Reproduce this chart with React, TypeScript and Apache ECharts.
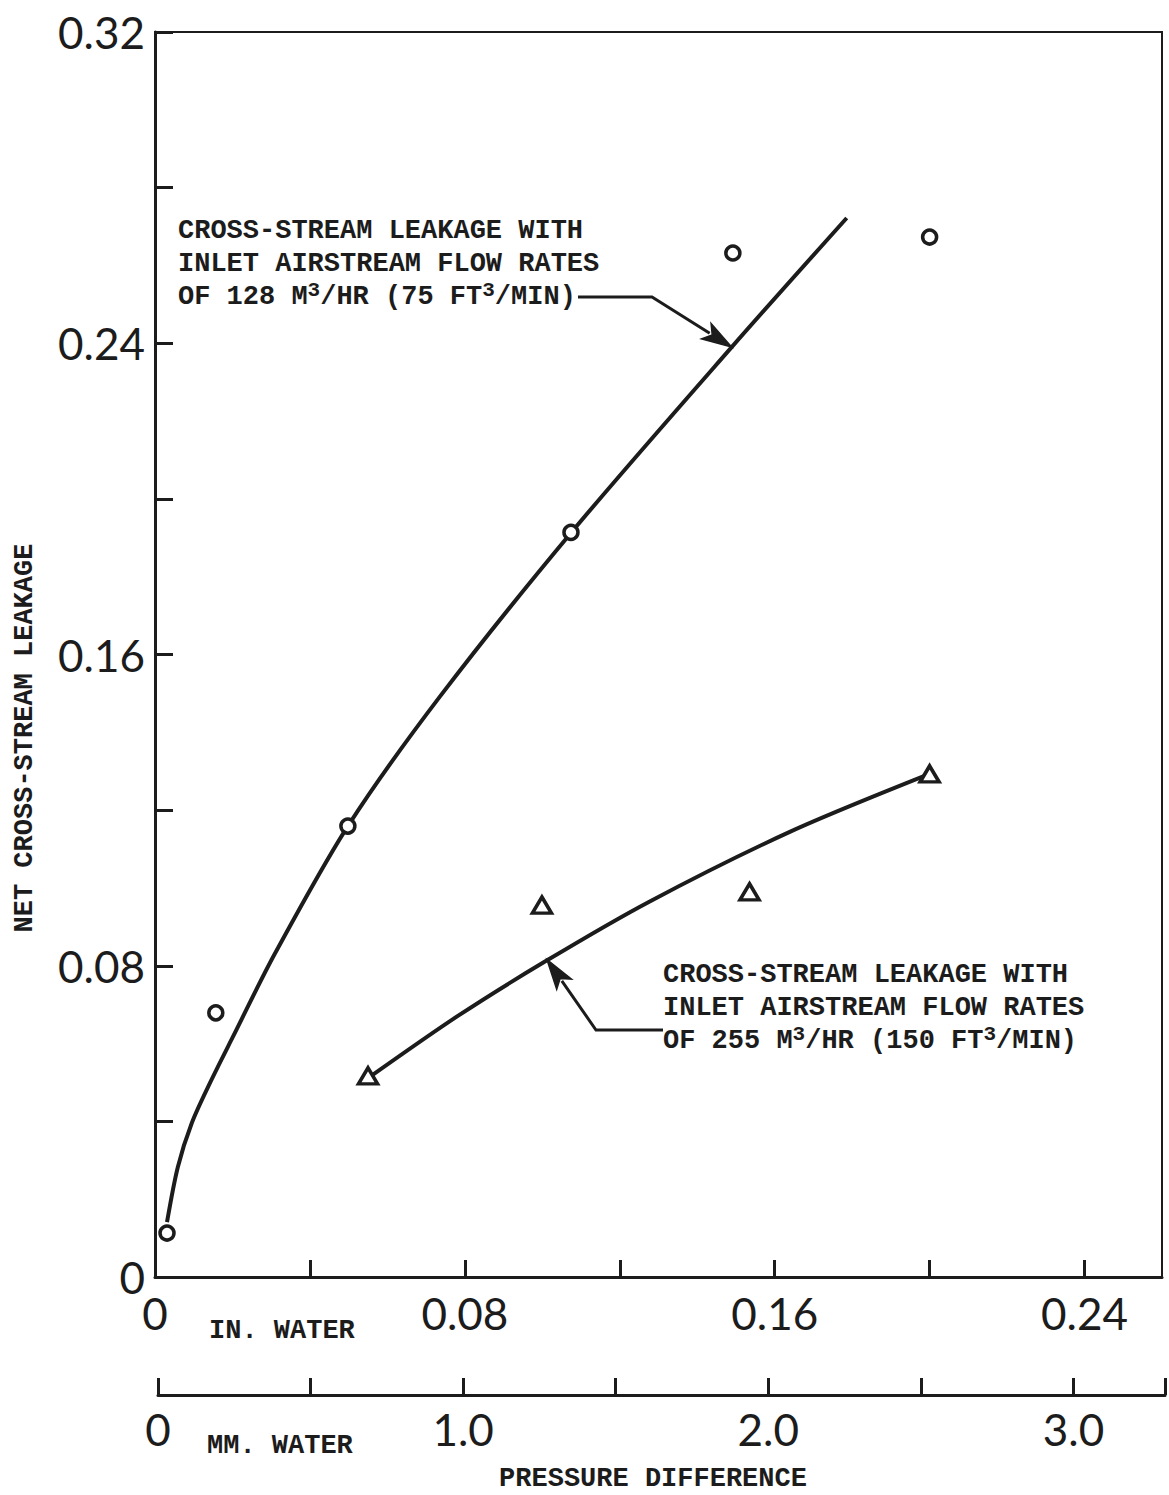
import React, { useEffect, useRef } from "react";
import * as echarts from "echarts";

// ---- data (inches of water vs. net cross-stream leakage) ----
const circleX = [0.0031, 0.0157, 0.0498, 0.1074, 0.1492, 0.2];
const circleY = [0.0113, 0.0679, 0.1159, 0.1914, 0.2632, 0.2673];
const triangleX = [0.055, 0.0999, 0.1535, 0.2];
const triangleY = [0.0517, 0.0956, 0.099, 0.1293];

const curve1X = [0.0031, 0.0059, 0.0095, 0.0142, 0.0201, 0.031, 0.0498, 0.0735, 0.1076, 0.1489, 0.1786];
const curve1Y = [0.0141, 0.0283, 0.0396, 0.0499, 0.0617, 0.0832, 0.1159, 0.1491, 0.1915, 0.239, 0.2722];
const curve2X = [0.055, 0.0782, 0.1009, 0.1275, 0.1639, 0.2];
const curve2Y = [0.0511, 0.0671, 0.0812, 0.0964, 0.1144, 0.1293];

const yTickLabels = ["0", "0.08", "0.16", "0.24", "0.32"];
const xInTickLabels = ["0", "0.08", "0.16", "0.24"];
const xMmTickLabels = ["0", "1.0", "2.0", "3.0"];

const arrow1Tip = [0.1489, 0.239];
const arrow2Tip = [0.1012, 0.0816];

const INK = "#1c1c1c";
const NUM_FONT = "Lato";
const TYPE_FONT = "Liberation Mono";

const zip = (a: number[], b: number[]) => a.map((v, i) => [v, b[i]]);

const fmtMultiple = (labels: string[], step: number) => (v: number) => {
  const k = v / step;
  if (Math.abs(k - Math.round(k)) > 1e-6) return "";
  return labels[Math.round(k)] ?? "";
};

export default function App() {
  const ref = useRef<HTMLDivElement>(null);
  useEffect(() => {
    if (!ref.current) return;
    const chart = echarts.init(ref.current, null, { renderer: "svg" });
    const labelStyle = { fontFamily: NUM_FONT, fontSize: 44, color: INK };
    chart.setOption({
      animation: false,
      backgroundColor: "#ffffff",
      grid: [
        { left: 155, top: 32, right: 7, bottom: 218, show: true, borderColor: INK, borderWidth: 2 },
        { left: 158, right: 4, top: 1394, height: 1 },
      ],
      xAxis: [
        {
          type: "value", gridIndex: 0, min: 0, max: 0.26, interval: 0.04,
          axisLine: { lineStyle: { color: INK, width: 3 } },
          axisTick: { inside: true, length: 17, lineStyle: { color: INK, width: 3 } },
          splitLine: { show: false },
          axisLabel: { ...labelStyle, margin: 14, formatter: fmtMultiple(xInTickLabels, 0.08), showMaxLabel: false },
        },
        {
          type: "value", gridIndex: 1, min: 0, max: 3.3, interval: 0.5, position: "bottom",
          axisLine: { lineStyle: { color: INK, width: 3 } },
          axisTick: { inside: true, length: 17, lineStyle: { color: INK, width: 3 } },
          splitLine: { show: false },
          axisLabel: { ...labelStyle, margin: 12, formatter: fmtMultiple(xMmTickLabels, 1) },
        },
      ],
      yAxis: [
        {
          type: "value", gridIndex: 0, min: 0, max: 0.32, interval: 0.04,
          axisLine: { show: true, lineStyle: { color: INK, width: 3 } },
          axisTick: { show: true, inside: true, length: 18, lineStyle: { color: INK, width: 3 } },
          splitLine: { show: false },
          axisLabel: { ...labelStyle, margin: 10, formatter: fmtMultiple(yTickLabels, 0.08) },
        },
        { type: "value", gridIndex: 1, min: 0, max: 1, show: false },
      ],
      series: [
        {
          type: "line", xAxisIndex: 0, yAxisIndex: 0, data: zip(curve1X, curve1Y),
          showSymbol: false, smooth: 0.3, lineStyle: { color: INK, width: 4 }, z: 2,
        },
        {
          type: "line", xAxisIndex: 0, yAxisIndex: 0, data: zip(curve2X, curve2Y),
          showSymbol: false, smooth: 0.3, lineStyle: { color: INK, width: 4 }, z: 2,
        },
        {
          type: "scatter", xAxisIndex: 0, yAxisIndex: 0, data: zip(circleX, circleY),
          symbol: "circle", symbolSize: 14,
          itemStyle: { color: "#ffffff", borderColor: INK, borderWidth: 3.5, opacity: 1 }, z: 5,
        },
        {
          type: "scatter", xAxisIndex: 0, yAxisIndex: 0, data: zip(triangleX, triangleY),
          symbol: "triangle", symbolSize: [19, 16],
          itemStyle: { color: "#ffffff", borderColor: INK, borderWidth: 3.5, opacity: 1 }, z: 5,
        },
      ],
    });

    const toPx = (p: number[]) => chart.convertToPixel({ gridIndex: 0 }, p) as number[];
    const arrow = (start: number[], corner: number[], tip: number[]) => {
      const dx = tip[0] - corner[0];
      const dy = tip[1] - corner[1];
      const len = Math.hypot(dx, dy);
      const ux = dx / len, uy = dy / len;
      const headLen = 30, half = 9;
      const bx = tip[0] - ux * headLen, by = tip[1] - uy * headLen;
      return [
        {
          type: "polyline",
          shape: { points: [start, corner, [bx + ux * 4, by + uy * 4]] },
          style: { stroke: INK, lineWidth: 3, fill: null },
          z: 10,
        },
        {
          type: "polygon",
          shape: {
            points: [tip, [bx - uy * half, by + ux * half], [bx + ux * 7, by + uy * 7], [bx + uy * half, by - ux * half]],
          },
          style: { fill: INK, stroke: INK, lineWidth: 1.5 },
          z: 10,
        },
      ];
    };
    const t1 = toPx(arrow1Tip);
    const t2 = toPx(arrow2Tip);
    const annoStyle = {
      fontFamily: TYPE_FONT, fontSize: 27, fontWeight: "bold", lineHeight: 33, fill: INK,
      rich: { s: { fontFamily: TYPE_FONT, fontSize: 21, fontWeight: "bold", verticalAlign: "top", lineHeight: 21 } },
    };
    const plain = { fontFamily: TYPE_FONT, fontSize: 27, fontWeight: "bold", fill: INK, verticalAlign: "middle" };
    chart.setOption({
      graphic: [
        ...arrow([578, 297], [652, 297], t1),
        ...arrow([663, 1030], [596, 1030], t2),
        {
          type: "text", left: 178, top: 214, z: 10,
          style: { ...annoStyle, text: "CROSS-STREAM LEAKAGE WITH\nINLET AIRSTREAM FLOW RATES\nOF 128 M{s|3}/HR (75 FT{s|3}/MIN)" },
        },
        {
          type: "text", left: 663, top: 958, z: 10,
          style: { ...annoStyle, text: "CROSS-STREAM LEAKAGE WITH\nINLET AIRSTREAM FLOW RATES\nOF 255 M{s|3}/HR (150 FT{s|3}/MIN)" },
        },
        {
          type: "text", x: 25, y: 738, rotation: Math.PI / 2, z: 10,
          style: { ...plain, text: "NET CROSS-STREAM LEAKAGE", align: "center" },
        },
        {
          type: "text", x: 209, y: 1331, z: 10,
          style: { ...plain, text: "IN. WATER", align: "left" },
        },
        {
          type: "text", x: 207, y: 1446, z: 10,
          style: { ...plain, text: "MM. WATER", align: "left" },
        },
        {
          type: "text", x: 653, y: 1479, z: 10,
          style: { ...plain, text: "PRESSURE DIFFERENCE", align: "center" },
        },
      ],
    });
    return () => chart.dispose();
  }, []);
  return (
    <div
      ref={ref}
      style={{ position: "fixed", left: 0, top: 0, width: 1169, height: 1495, background: "#fff" }}
    />
  );
}
